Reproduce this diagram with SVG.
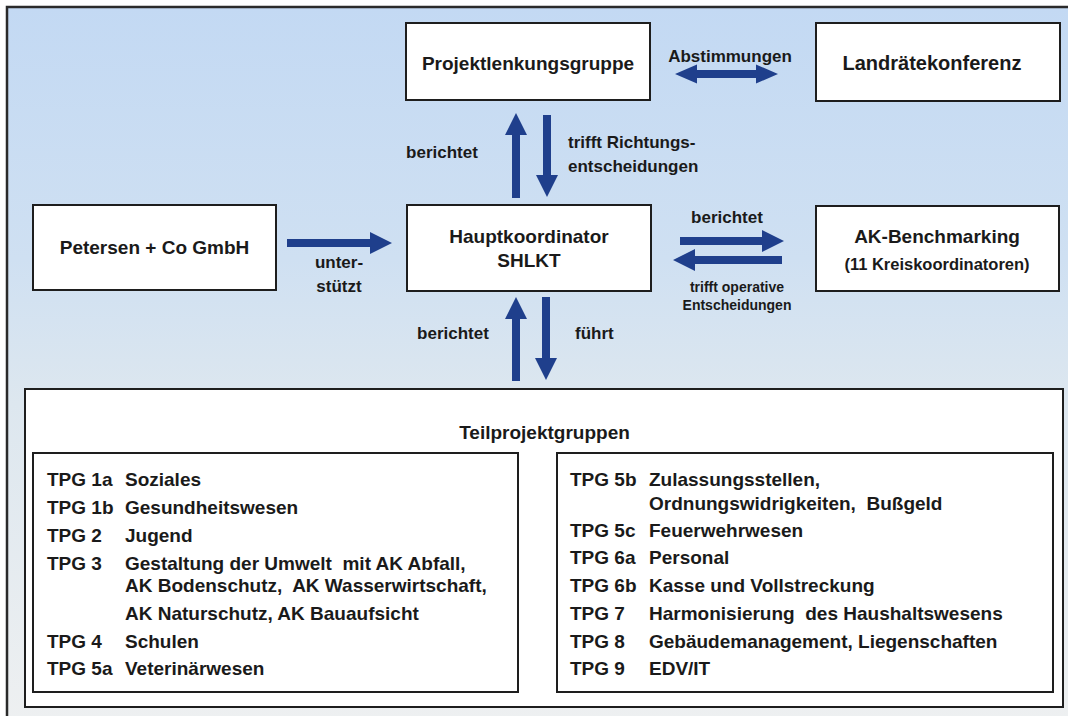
<svg xmlns="http://www.w3.org/2000/svg" width="1068" height="716" viewBox="0 0 1068 716">
<defs>
<linearGradient id="bg" x1="0" y1="0" x2="0" y2="1">
<stop offset="0" stop-color="#c3d9f3"/>
<stop offset="0.35" stop-color="#cfe0f2"/>
<stop offset="0.55" stop-color="#dde7ef"/>
<stop offset="1" stop-color="#eef0f1"/>
</linearGradient>
<style>
.box{fill:#ffffff;stroke:#1e1e1e;stroke-width:2}
.t{font-family:"Liberation Sans",Arial,sans-serif;font-weight:bold;fill:#1a1a1a;white-space:pre}
.big{font-size:19px}
.lab{font-size:17px}
.sm{font-size:14px}
.li{font-size:19px}
.arr{fill:#1f3f8c}
</style>
</defs>
<rect x="0" y="0" width="1068" height="716" fill="#ffffff"/>
<rect x="7" y="7" width="1070" height="720" fill="url(#bg)" stroke="#2a2a2a" stroke-width="2.5"/>

<g id="connectors">
<polygon class="arr" points="675,74 697,64.5 697,70 756,70 756,64.5 778,74 756,83.5 756,78 697,78 697,83.5"/>
<polygon class="arr" points="516,113 527,135 520,135 520,198 512,198 512,135 505,135"/>
<polygon class="arr" points="543,115 551,115 551,175 558,175 547,197 536,175 543,175"/>
<polygon class="arr" points="287,239 370,239 370,232 392,243 370,254 370,247 287,247"/>
<polygon class="arr" points="680,237 762,237 762,230 784,241 762,252 762,245 680,245"/>
<polygon class="arr" points="782,256 695,256 695,249 673,260 695,271 695,264 782,264"/>
<polygon class="arr" points="516,297 527,319 520,319 520,381 512,381 512,319 505,319"/>
<polygon class="arr" points="542,297 550,297 550,358 557,358 546,380 535,358 542,358"/>
<text class="t lab" x="730" y="62" text-anchor="middle">Abstimmungen</text>
<text class="t lab" x="442" y="158" text-anchor="middle">berichtet</text>
<text class="t lab" x="568" y="148">trifft Richtungs-</text>
<text class="t lab" x="568" y="172">entscheidungen</text>
<text class="t lab" x="339" y="268" text-anchor="middle">unter-</text>
<text class="t lab" x="339" y="292" text-anchor="middle">stützt</text>
<text class="t lab" x="727" y="223" text-anchor="middle">berichtet</text>
<text class="t sm" x="737" y="292" text-anchor="middle">trifft operative</text>
<text class="t sm" x="737" y="310" text-anchor="middle">Entscheidungen</text>
<text class="t lab" x="453" y="339" text-anchor="middle">berichtet</text>
<text class="t lab" x="575" y="339">führt</text>
</g>

<g id="projektlenkungsgruppe">
<rect class="box" x="406" y="23" width="244" height="77"/>
<text class="t big" x="528" y="70" text-anchor="middle">Projektlenkungsgruppe</text>
</g>

<g id="landraetekonferenz">
<rect class="box" x="816" y="23" width="244" height="78"/>
<text class="t" x="932" y="70" text-anchor="middle" font-size="20">Landrätekonferenz</text>
</g>

<g id="petersen">
<rect class="box" x="33" y="205" width="243" height="85"/>
<text class="t big" x="154.5" y="254" text-anchor="middle">Petersen + Co GmbH</text>
</g>

<g id="hauptkoordinator">
<rect class="box" x="407" y="205" width="244" height="86"/>
<text class="t big" x="529" y="243" text-anchor="middle">Hauptkoordinator</text>
<text class="t big" x="529" y="267" text-anchor="middle">SHLKT</text>
</g>

<g id="ak-benchmarking">
<rect class="box" x="816" y="206" width="243" height="85"/>
<text class="t big" x="937" y="243" text-anchor="middle">AK-Benchmarking</text>
<text class="t" x="937" y="270" text-anchor="middle" font-size="16.5">(11 Kreiskoordinatoren)</text>
</g>

<g id="teilprojektgruppen">
<rect class="box" x="25" y="389" width="1038" height="318"/>
<text class="t li" x="544.5" y="439" text-anchor="middle">Teilprojektgruppen</text>
</g>

<g id="tpg-links">
<rect class="box" x="33" y="453" width="485" height="239"/>
<text class="t li" x="47" y="485.5">TPG 1a</text><text class="t li" x="125" y="485.5">Soziales</text>
<text class="t li" x="47" y="513.5">TPG 1b</text><text class="t li" x="125" y="513.5">Gesundheitswesen</text>
<text class="t li" x="47" y="541.5">TPG 2</text><text class="t li" x="125" y="541.5">Jugend</text>
<text class="t li" x="47" y="569.5">TPG 3</text><text class="t li" x="125" y="569.5" xml:space="preserve">Gestaltung der Umwelt  mit AK Abfall,</text>
<text class="t li" x="125" y="591.5" xml:space="preserve">AK Bodenschutz,  AK Wasserwirtschaft,</text>
<text class="t li" x="125" y="619.5">AK Naturschutz, AK Bauaufsicht</text>
<text class="t li" x="47" y="647.5">TPG 4</text><text class="t li" x="125" y="647.5">Schulen</text>
<text class="t li" x="47" y="674.5">TPG 5a</text><text class="t li" x="125" y="674.5">Veterinärwesen</text>
</g>

<g id="tpg-rechts">
<rect class="box" x="557" y="453" width="496" height="239"/>
<text class="t li" x="570" y="485.5">TPG 5b</text><text class="t li" x="649" y="485.5">Zulassungsstellen,</text>
<text class="t li" x="649" y="509.5" xml:space="preserve">Ordnungswidrigkeiten,  Bußgeld</text>
<text class="t li" x="570" y="536.5">TPG 5c</text><text class="t li" x="649" y="536.5">Feuerwehrwesen</text>
<text class="t li" x="570" y="563.5">TPG 6a</text><text class="t li" x="649" y="563.5">Personal</text>
<text class="t li" x="570" y="591.5">TPG 6b</text><text class="t li" x="649" y="591.5">Kasse und Vollstreckung</text>
<text class="t li" x="570" y="619.5">TPG 7</text><text class="t li" x="649" y="619.5" xml:space="preserve">Harmonisierung  des Haushaltswesens</text>
<text class="t li" x="570" y="647.5">TPG 8</text><text class="t li" x="649" y="647.5">Gebäudemanagement, Liegenschaften</text>
<text class="t li" x="570" y="674.5">TPG 9</text><text class="t li" x="649" y="674.5">EDV/IT</text>
</g>
</svg>
